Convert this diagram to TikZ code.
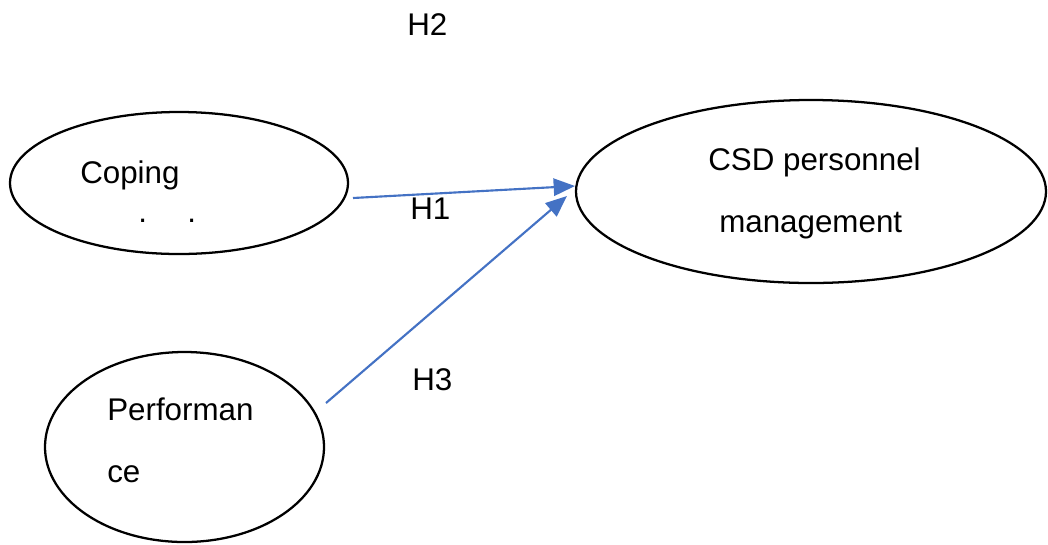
\documentclass[tikz,border=0pt]{standalone}
\usepackage{fontspec}
\setmainfont{Liberation Sans}
\usetikzlibrary{shapes.geometric,arrows.meta}
\definecolor{arrowblue}{HTML}{4472C4}
\begin{document}
\begin{tikzpicture}[x=0.75pt,y=-0.75pt,
  oval/.style={draw=black,line width=1.7pt,ellipse,inner sep=0pt},
  lbl/.style={anchor=base west,inner sep=0pt,font=\fontsize{23.5pt}{28pt}\selectfont},
  link/.style={draw=arrowblue,line width=1.6pt,-{Triangle[length=16pt,width=13pt]}}]
\useasboundingbox (0,0) rectangle (1048,544);
% ellipses
\node[oval,minimum width=338*0.75pt,minimum height=142*0.75pt] (coping) at (179,183) {};
\node[oval,minimum width=279*0.75pt,minimum height=190*0.75pt] (perf) at (184.5,447) {};
\node[oval,minimum width=470*0.75pt,minimum height=183*0.75pt] (csd) at (811,191.5) {};
% texts
\node[lbl] (tcoping) at (80,183) {Coping};
\node[lbl] (dot1) at (138,222) {.};
\node[lbl] (dot2) at (187,222) {.};
\node[lbl] (tperf1) at (107,420) {Performan};
\node[lbl] (tperf2) at (107,482) {ce};
\node[lbl] (tcsd1) at (708,170) {CSD personnel};
\node[lbl] (tcsd2) at (719,232) {management};
\node[lbl] (h2) at (407,35) {H2};
\node[lbl] (h1) at (410,219) {H1};
\node[lbl] (h3) at (412,390) {H3};
% connectors
\coordinate (s1) at (353,198);
\coordinate (e1) at (575,186);
\coordinate (s3) at (326,403);
\coordinate (e3) at (567,196);
\draw[link] (s1) -- (e1);
\draw[link] (s3) -- (e3);
\end{tikzpicture}
\end{document}
